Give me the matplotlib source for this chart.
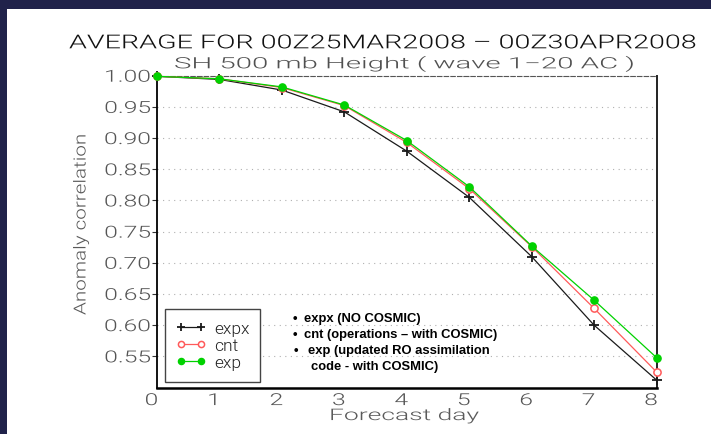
import matplotlib
matplotlib.use("Agg")
import matplotlib.pyplot as plt
from matplotlib import font_manager as fm
from matplotlib.patheffects import AbstractPathEffect
from matplotlib.transforms import Affine2D
from matplotlib.patches import Rectangle

# ---- data -------------------------------------------------------------
days = [0, 1, 2, 3, 4, 5, 6, 7, 8]
expx = [0.999, 0.994, 0.977, 0.942, 0.879, 0.805, 0.710, 0.600, 0.512]
cnt = [0.999, 0.995, 0.981, 0.952, 0.893, 0.819, 0.726, 0.627, 0.525]
exp = [0.999, 0.995, 0.982, 0.953, 0.896, 0.822, 0.727, 0.640, 0.548]
series_names = ["expx", "cnt", "exp"]
yticks = [0.55, 0.60, 0.65, 0.70, 0.75, 0.80, 0.85, 0.90, 0.95, 1.00]
ytick_labels = ["0.55", "0.60", "0.65", "0.70", "0.75", "0.80", "0.85", "0.90", "0.95", "1.00"]
xtick_labels = ["0", "1", "2", "3", "4", "5", "6", "7", "8"]

title = "AVERAGE FOR 00Z25MAR2008 \u2013 00Z30APR2008"
subtitle = "SH 500 mb Height ( wave 1\u221220 AC )"
xlabel = "Forecast day"
ylabel = "Anomaly correlation"
notes = [
    "expx (NO COSMIC)",
    "cnt (operations \u2013 with COSMIC)",
    "exp (updated RO assimilation",
    "code - with COSMIC)",
]

# ---- thin lettering for the plot texts --------------------------------
thin_family, thin_weight = "DejaVu Sans", "normal"
for fam in ["Roboto", "Lato", "Open Sans", "Noto Sans"]:
    faces = [f for f in fm.fontManager.ttflist
             if f.name == fam and f.style == "normal"
             and isinstance(f.weight, int) and 250 <= f.weight <= 300]
    if faces:
        thin_family, thin_weight = fam, faces[0].weight
        break
thin = dict(family=thin_family, weight=thin_weight)

# ---- figure -----------------------------------------------------------
W, H = 711, 434
fig = plt.figure(figsize=(W / 100, H / 100), dpi=100)
fig.patch.set_facecolor("white")

navy = "#20224a"
fig.add_artist(Rectangle((0, 0), 7 / W, 1, transform=fig.transFigure,
                         facecolor=navy, edgecolor="none", zorder=-10))
fig.add_artist(Rectangle((0, 1 - 9 / H), 1, 9 / H, transform=fig.transFigure,
                         facecolor=navy, edgecolor="none", zorder=-10))

ax_l, ax_r, ax_t, ax_b = 157, 656.5, 75.7, 387.5
ax = fig.add_axes([ax_l / W, 1 - ax_b / H, (ax_r - ax_l) / W, (ax_b - ax_t) / H])

c_black, c_red, c_green = "#1a1a1a", "#ff5a5a", "#00d200"
ax.plot(days, expx, color=c_black, lw=0.9, marker="+", ms=6.5, mew=1.3,
        clip_on=False, zorder=3, label=series_names[0])
ax.plot(days, cnt, color=c_red, lw=0.9, marker="o", ms=5.2, mfc="white",
        mec=c_red, mew=1.1, clip_on=False, zorder=4, label=series_names[1])
ax.plot(days, exp, color=c_green, lw=0.9, marker="o", ms=5.2, mfc=c_green,
        mec=c_green, clip_on=False, zorder=5, label=series_names[2])

ax.set_xlim(0, 8)
ax.set_ylim(0.5, 1.0)
ax.set_xticks(days)
ax.set_xticklabels(xtick_labels, fontdict=thin)
ax.set_yticks(yticks)
ax.set_yticklabels(ytick_labels, fontdict=thin)

tick_color = "#555555"
ax.tick_params(axis="y", direction="out", length=3.6, width=0.8, pad=1.2,
               labelsize=11.9, labelcolor=tick_color, color="#333333")
ax.tick_params(axis="x", length=0, pad=4, labelsize=11.9, labelcolor=tick_color)

ax.yaxis.grid(True, linestyle=(0, (1, 4)), color="#b0b0b0", lw=0.8)
ax.set_axisbelow(True)

ax.spines["top"].set_linestyle((0, (4, 2)))
ax.spines["top"].set_color("#555555")
ax.spines["top"].set_linewidth(0.8)
ax.spines["left"].set_color("black")
ax.spines["left"].set_linewidth(1.3)
ax.spines["right"].set_color("#222222")
ax.spines["right"].set_linewidth(1.4)
ax.spines["bottom"].set_color("black")
ax.spines["bottom"].set_linewidth(1.8)

ax.set_xlabel(xlabel, fontsize=11.5, color="#5a5a5a", labelpad=0, **thin)
ax.set_ylabel(ylabel, fontsize=12, color="#5a5a5a", **thin)

leg = ax.legend(loc="lower left", bbox_to_anchor=(165.3 / W, 1 - 381.7 / H),
                bbox_transform=fig.transFigure, numpoints=2, fancybox=False,
                edgecolor="#444444", framealpha=1,
                prop=dict(size=12.5, **thin),
                handlelength=1.72, handleheight=1.05, handletextpad=0.46,
                borderpad=0.62, labelspacing=0.0, borderaxespad=0,
                markerscale=0.85, labelcolor="#222222")
leg.get_frame().set_linewidth(1.0)

t_title = fig.text(69 / W, 1 - 48.3 / H, title, ha="left", va="baseline",
                   fontsize=13.8, color="#111111", **thin)
t_sub = fig.text(175 / W, 1 - 68.3 / H, subtitle, ha="left", va="baseline",
                 fontsize=11.2, color="#505050", **thin)

note_font = dict(family="Liberation Sans", fontweight="bold", fontsize=9.4,
                 color="black", va="center", ha="left")
note_rows = [(293, 304, 319.3), (293, 304, 335.0), (294, 308, 350.7), (None, 311, 367.3)]
for text, (bx, tx, ty) in zip(notes, note_rows):
    if bx is not None:
        fig.text(bx / W, 1 - ty / H, "\u2022", **note_font)
    fig.text(tx / W, 1 - ty / H, text, **note_font)


# ---- wide lettering: stretch glyph outlines along the writing direction --
class Stretch(AbstractPathEffect):
    def __init__(self, tr):
        super().__init__()
        self._tr = tr

    def draw_path(self, renderer, gc, tpath, affine, rgbFace=None):
        renderer.draw_path(gc, tpath, affine + self._tr, rgbFace)


fig.canvas.draw()
r = fig.canvas.get_renderer()


def fit_h(txt, left, right):
    bb = txt.get_window_extent(r)
    sx = (right - left) / bb.width
    txt.set_path_effects([Stretch(Affine2D().translate(-bb.x0, 0)
                                  .scale(sx, 1).translate(left, 0))])


fit_h(t_title, 69, 696)
fit_h(t_sub, 174, 632)
fit_h(ax.xaxis.label, 329, 479)

ref = [t for t in ax.get_yticklabels() if t.get_text() == "1.00"][0]
sx_t = 47 / ref.get_window_extent(r).width
for t in ax.get_yticklabels():
    bb = t.get_window_extent(r)
    t.set_path_effects([Stretch(Affine2D().translate(-bb.x1, 0)
                                .scale(sx_t, 1).translate(151, 0))])
for t in ax.get_xticklabels():
    bb = t.get_window_extent(r)
    cx = 0.5 * (bb.x0 + bb.x1)
    t.set_path_effects([Stretch(Affine2D().translate(-cx, 0)
                                .scale(sx_t, 1).translate(cx - 5.5, 0))])

yl = ax.yaxis.label
bb = yl.get_window_extent(r)
sy = (H - 134 - (H - 315)) / bb.height
cx = 0.5 * (bb.x0 + bb.x1)
yl.set_path_effects([Stretch(Affine2D().translate(-cx, -bb.y0)
                             .scale(1, sy).translate(81, H - 315))])

fig.savefig("out.png", dpi=100)
